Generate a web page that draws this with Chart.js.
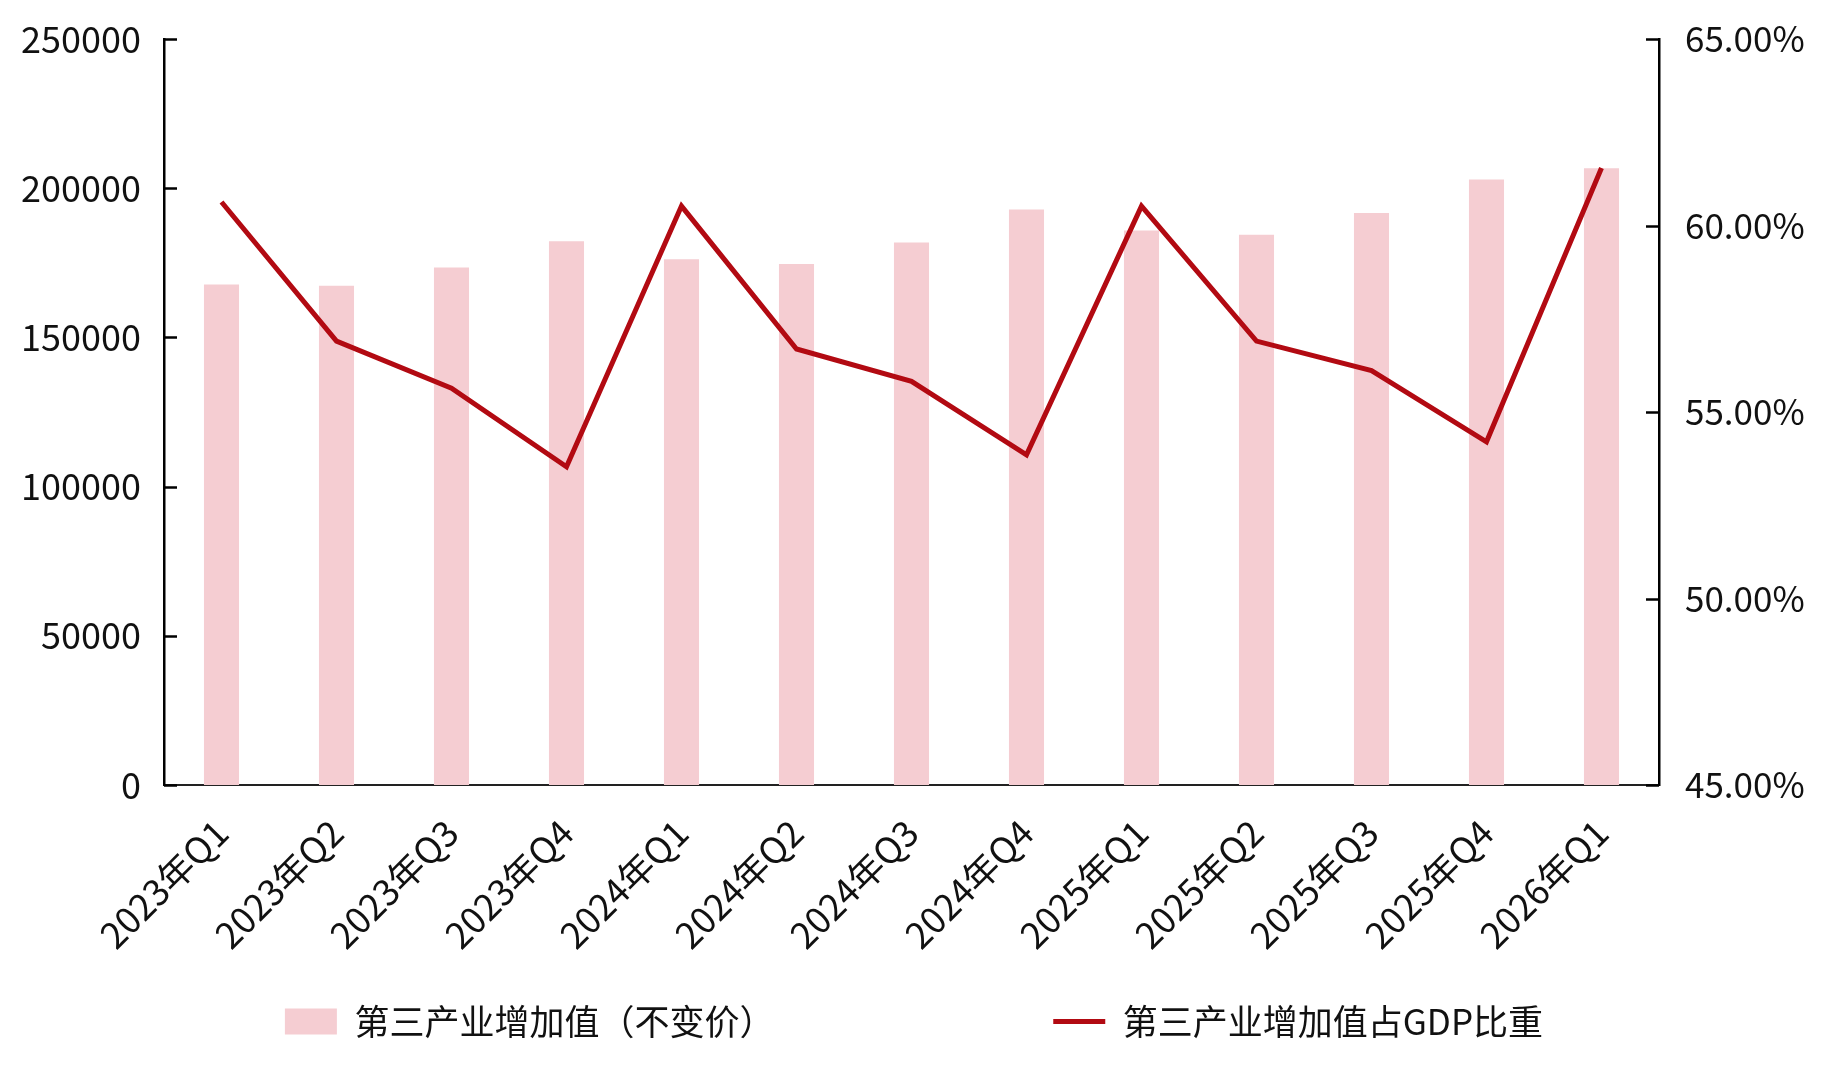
<!DOCTYPE html>
<html>
<head>
<meta charset="utf-8">
<script src="https://cdn.jsdelivr.net/npm/chart.js@4"></script>
<style>
  html, body { margin: 0; padding: 0; background: #fff; }
  #wrap { width: 1828px; height: 1080px; position: relative; }
</style>
</head>
<body>
<div id="wrap"><canvas id="myChart"></canvas></div>
<script>
// quarters on the x axis
const quarters = ['2023年Q1', '2023年Q2', '2023年Q3', '2023年Q4',
                  '2024年Q1', '2024年Q2', '2024年Q3', '2024年Q4',
                  '2025年Q1', '2025年Q2', '2025年Q3', '2025年Q4', '2026年Q1'];

// 第三产业增加值（不变价）
const addedValue = [167700, 167300, 173400, 182200, 176200, 174600, 181800,
                    192900, 185800, 184400, 191700, 202900, 206700];

// 第三产业增加值占GDP比重 (%)
const gdpShare = [60.63, 56.90, 55.64, 53.53, 60.52, 56.69, 55.82,
                  53.85, 60.52, 56.90, 56.11, 54.20, 61.54];

const barLabel = '第三产业增加值（不变价）';
const lineLabel = '第三产业增加值占GDP比重';

const leftTicks = [0, 50000, 100000, 150000, 200000, 250000];
const rightTicks = [45, 50, 55, 60, 65];

Chart.defaults.font.family = "'Noto Sans CJK SC', 'Noto Sans', sans-serif";
Chart.defaults.color = '#111';

// small tick marks pointing into the plot on both y axes
const innerTicks = {
  id: 'innerTicks',
  afterDraw(chart) {
    const ctx = chart.ctx;
    ['y', 'y1'].forEach(id => {
      const s = chart.scales[id];
      const left = s.position === 'left';
      const x0 = left ? s.right : s.left;
      const dir = left ? 1 : -1;
      ctx.save();
      ctx.strokeStyle = '#000';
      ctx.lineWidth = 2.5;
      s.ticks.forEach((t, i) => {
        const y = Math.round(s.getPixelForTick(i)) + 0.5;
        ctx.beginPath();
        ctx.moveTo(x0, y);
        ctx.lineTo(x0 + dir * 13, y);
        ctx.stroke();
      });
      ctx.restore();
    });
  }
};

window.addEventListener('load', function () {
  const ctx = document.getElementById('myChart').getContext('2d');
  new Chart(ctx, {
    data: {
      labels: quarters,
      datasets: [{
        type: 'line',
        label: lineLabel,
        data: gdpShare,
        yAxisID: 'y1',
        borderColor: '#B20A12',
        backgroundColor: '#B20A12',
        borderWidth: 5,
        pointRadius: 0,
        pointStyle: 'line',
        tension: 0,
        order: 0
      }, {
        type: 'bar',
        label: barLabel,
        data: addedValue,
        yAxisID: 'y',
        backgroundColor: '#F5CDD2',
        borderWidth: 0,
        pointStyle: 'rect',
        categoryPercentage: 1,
        barPercentage: 0.305,
        order: 1
      }]
    },
    options: {
      responsive: true,
      maintainAspectRatio: false,
      animation: false,
      layout: { padding: { top: 4, right: 0, bottom: 31, left: 0 } },
      plugins: {
        tooltip: { enabled: false },
        legend: {
          position: 'bottom',
          labels: {
            usePointStyle: true,
            pointStyleWidth: 52,
            boxHeight: 26,
            padding: 20,
            color: '#111',
            font: { size: 35 },
            sort: (a, b) => b.datasetIndex - a.datasetIndex,
            generateLabels(chart) {
              const items = Chart.defaults.plugins.legend.labels.generateLabels(chart);
              items.forEach(it => {
                // leave the wide gap between the two legend entries
                if (it.text === barLabel) it.text = barLabel + '\u3000'.repeat(7) + '    ';
              });
              return items;
            }
          }
        }
      },
      scales: {
        x: {
          offset: true,
          grid: { display: false },
          border: { display: true, color: '#222', width: 2 },
          ticks: {
            minRotation: 45,
            maxRotation: 45,
            padding: 18,
            font: { size: 36 },
            color: '#111'
          },
          afterFit(scale) { scale.height = 199; }
        },
        y: {
          position: 'left',
          min: 0,
          max: 250000,
          afterBuildTicks(scale) { scale.ticks = leftTicks.map(v => ({ value: v })); },
          grid: { display: false },
          border: { display: true, color: '#000', width: 2.5 },
          ticks: { padding: 15, font: { size: 36 }, color: '#111', callback: v => String(v) },
          afterFit(scale) { scale.width = 164; }
        },
        y1: {
          position: 'right',
          min: 45,
          max: 65,
          afterBuildTicks(scale) { scale.ticks = rightTicks.map(v => ({ value: v })); },
          grid: { display: false },
          border: { display: true, color: '#000', width: 2.5 },
          ticks: {
            padding: 18,
            font: { size: 35 },
            color: '#111',
            callback: v => v.toFixed(2) + '%'
          },
          afterFit(scale) { scale.width = 169; }
        }
      }
    },
    plugins: [innerTicks]
  });
});
</script>
</body>
</html>
